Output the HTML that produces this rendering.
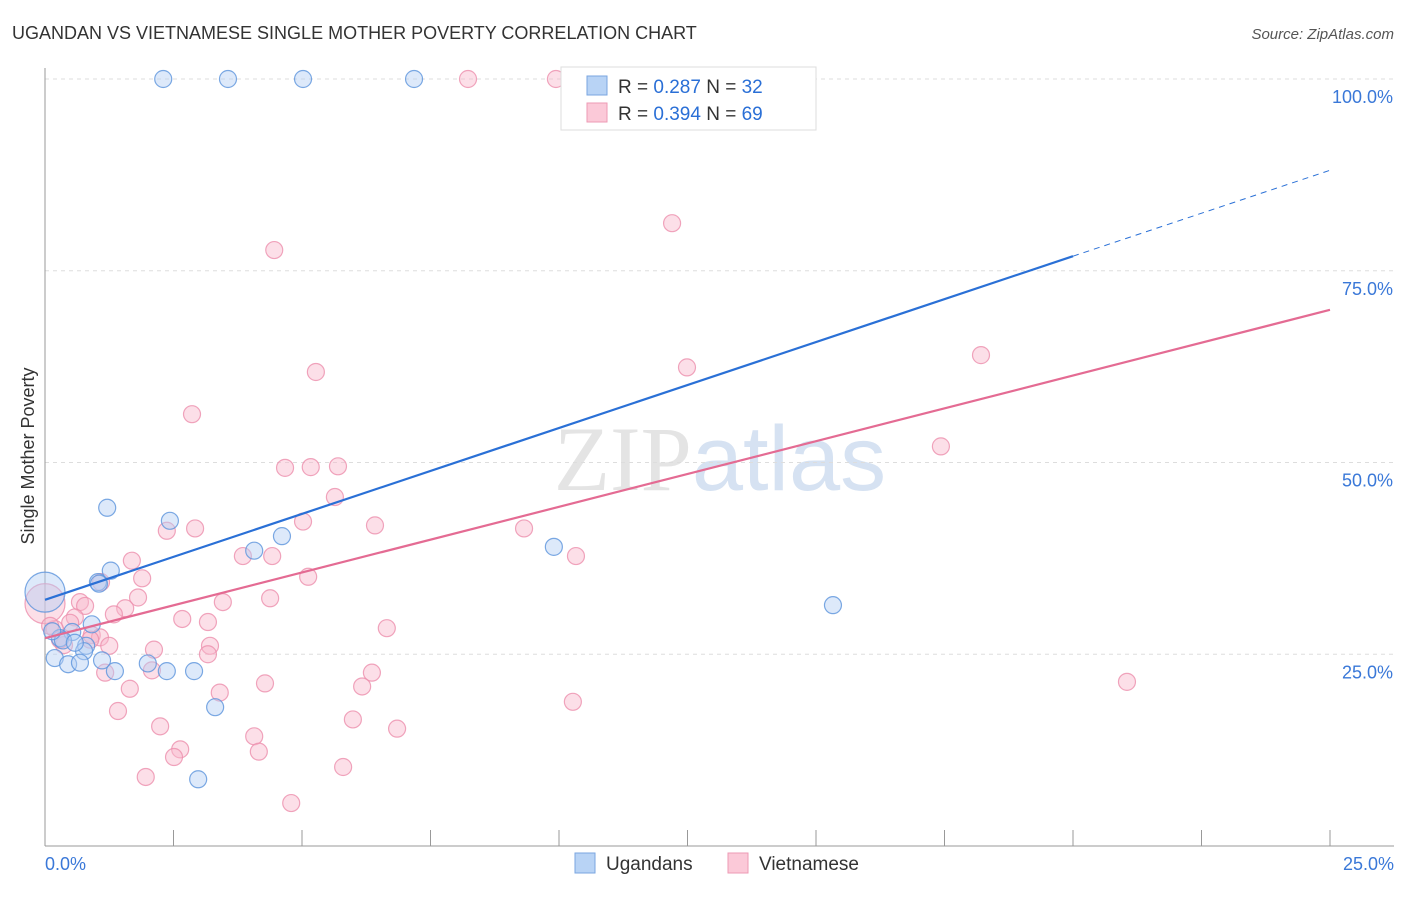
<!DOCTYPE html>
<html><head><meta charset="utf-8"><style>
body{margin:0;background:#fff;font-family:"Liberation Sans",sans-serif}
</style></head><body>
<svg id="c" width="1406" height="892" xmlns="http://www.w3.org/2000/svg">
<text x="12" y="39" font-size="18" fill="#333">UGANDAN VS VIETNAMESE SINGLE MOTHER POVERTY CORRELATION CHART</text>
<text x="1394" y="39" font-size="15" fill="#555" font-style="italic" text-anchor="end">Source: ZipAtlas.com</text>
<text x="720" y="490" font-size="92" fill="#e4e4e4" text-anchor="middle" font-family="Liberation Serif">ZIP<tspan fill="#d6e2f2" font-family="Liberation Sans">atlas</tspan></text>
<g id="grid"></g><g id="marks"></g>
<text transform="translate(34,456) rotate(-90)" font-size="18" fill="#333" text-anchor="middle">Single Mother Poverty</text>
<g>
<rect x="561" y="67" width="255" height="63" fill="#fff" stroke="#ddd"/>
<rect x="587" y="76" width="20" height="19" fill="#b8d3f5" stroke="#7aa6e0"/>
<rect x="587" y="103" width="20" height="19" fill="#fbc9d8" stroke="#ee9ab4"/>
<text x="618" y="93" font-size="19" fill="#333">R = <tspan fill="#2a6fd6">0.287</tspan>   N = <tspan fill="#2a6fd6">32</tspan></text>
<text x="618" y="120" font-size="19" fill="#333">R = <tspan fill="#2a6fd6">0.394</tspan>   N = <tspan fill="#2a6fd6">69</tspan></text>
</g>
<g>
<rect x="575" y="853" width="20" height="20" fill="#b8d3f5" stroke="#7aa6e0"/>
<text x="606" y="870" font-size="19" fill="#333">Ugandans</text>
<rect x="728" y="853" width="20" height="20" fill="#fbc9d8" stroke="#ee9ab4"/>
<text x="759" y="870" font-size="19" fill="#333">Vietnamese</text>
</g>
</svg>
<script>
const yTicks=[25,50,75,100];
const yTickLabels=["25.0%","50.0%","75.0%","100.0%"];
const xTickLabels=["0.0%","25.0%"];
const ugX=[2.30,3.56,5.02,7.18,1.21,2.43,4.61,4.07,9.90,1.28,1.03,0.91,0.53,0.29,0.80,0.76,1.11,0.19,0.45,0.68,1.36,2.00,2.37,2.90,3.31,2.98,15.33,0.0,0.35,0.14,0.58,1.05];
const ugY=[100,100,100,100,44.1,42.4,40.4,38.5,39.0,35.9,34.4,28.9,27.9,27.1,26.1,25.4,24.2,24.5,23.7,23.9,22.8,23.8,22.8,22.8,18.1,8.7,31.4,33.1,26.8,28.0,26.5,34.2];
const viX=[8.23,9.94,12.20,4.46,5.27,12.49,18.21,2.86,17.43,4.67,5.17,5.70,5.64,2.37,2.92,5.02,6.42,9.32,3.85,4.42,10.33,1.69,1.89,5.12,1.09,4.38,3.46,1.81,1.56,0.68,0.78,1.34,0.58,2.67,3.17,6.65,0.49,0.19,0.91,1.07,0.37,1.25,3.21,2.12,3.17,1.17,2.08,6.36,1.65,4.28,6.17,3.40,1.42,2.24,5.99,6.85,4.07,2.63,2.51,4.16,1.96,5.80,4.79,21.05,10.27,0,0.88,0.29,0.10];
const viY=[100,100,81.2,77.7,61.8,62.4,64.0,56.3,52.1,49.3,49.4,49.5,45.5,41.1,41.4,42.3,41.8,41.4,37.8,37.8,37.8,37.2,34.9,35.1,34.4,32.3,31.8,32.4,31.0,31.8,31.3,30.2,29.8,29.6,29.2,28.4,29.1,28.3,27.5,27.2,26.2,26.1,26.1,25.6,25.0,22.6,22.9,22.6,20.5,21.2,20.8,20.0,17.6,15.6,16.5,15.3,14.3,12.6,11.6,12.3,9.0,10.3,5.6,21.4,18.8,31.6,26.9,26.9,28.7];
const ugTrend=[32.1,88.1];
const viTrend=[27.1,69.9];
const X=v=>45+v/25*1285, Y=v=>846-v/100*767;
const NS="http://www.w3.org/2000/svg";
function mk(t,a,p){const e=document.createElementNS(NS,t);for(const k in a)e.setAttribute(k,a[k]);p.appendChild(e);return e;}
const g=document.getElementById('grid'),m=document.getElementById('marks');
yTicks.forEach((t,i)=>{
 const l=mk('line',{x1:45,x2:1394,y1:Y(t),y2:Y(t),stroke:'#ddd','stroke-dasharray':'4,4'},g);
 
 
 const tx=mk('text',{x:1393,y:Y(t)+24,'font-size':18,fill:'#3a78d8','text-anchor':'end'},g);
 tx.textContent=yTickLabels[i];
 
 
});
const ax=mk('line',{x1:45,x2:45,y1:68,y2:846,stroke:'#999'},g);


const bx=mk('line',{x1:45,x2:1394,y1:846,y2:846,stroke:'#999'},g);


for(let i=0;i<=10;i++){
 const t=mk('line',{x1:X(i*2.5),x2:X(i*2.5),y1:830,y2:846,stroke:'#999'},g);
 
 
}
[[0,'start',45],[25,'end',1394]].forEach((d,i)=>{
 const t=mk('text',{x:d[2],y:870,'font-size':18,fill:'#3a78d8','text-anchor':d[1]},g);
 t.textContent=xTickLabels[i];
 
 
});
function pts(xs,ys,fill,stroke,name){
 xs.forEach((x,i)=>{
  const big=(x===0);
  const c=mk('circle',{cx:X(x),cy:Y(ys[i]),r:big?20:8.5,fill:fill,'fill-opacity':0.45,stroke:stroke,'stroke-width':1.2,'stroke-opacity':0.8},m);
  
  
 });
}
pts(viX,viY,'#f8b8cb','#ec8fac','vietnamese-point');
pts(ugX,ugY,'#b3cff3','#5b93dc','ugandan-point');
const xe=(1073-45)/1285*25;
let l1=mk('line',{x1:X(0),y1:Y(ugTrend[0]),x2:X(xe),y2:Y(ugTrend[0]+(ugTrend[1]-ugTrend[0])*xe/25),stroke:'#2a70d6','stroke-width':2.2},m);


let l2=mk('line',{x1:X(xe),y1:Y(ugTrend[0]+(ugTrend[1]-ugTrend[0])*xe/25),x2:X(25),y2:Y(ugTrend[1]),stroke:'#2a70d6','stroke-width':1,'stroke-dasharray':'6,5'},m);


let l3=mk('line',{x1:X(0),y1:Y(viTrend[0]),x2:X(25),y2:Y(viTrend[1]),stroke:'#e46b93','stroke-width':2.2},m);


</script>
</body></html>
